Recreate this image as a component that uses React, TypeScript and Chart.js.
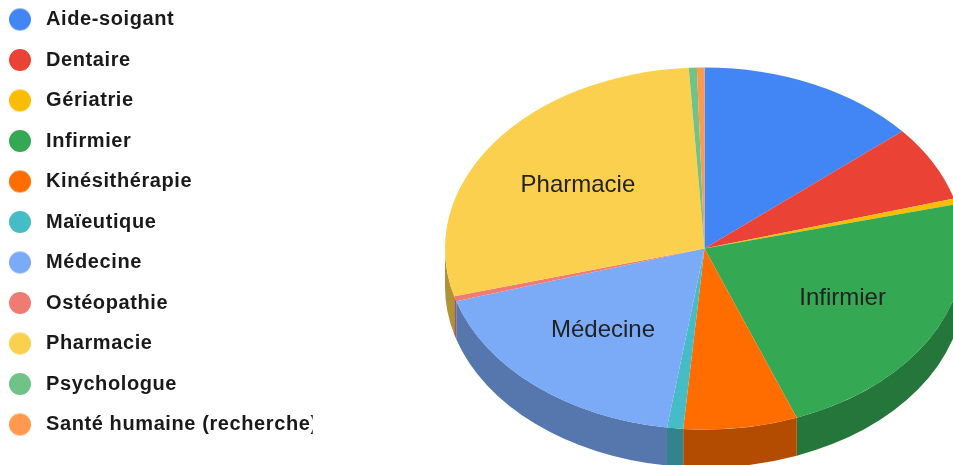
import React, { useEffect, useRef } from "react";
import { Chart, registerables } from "chart.js";

Chart.register(...registerables);

const categories = ["Aide-soigant", "Dentaire", "Gériatrie", "Infirmier", "Kinésithérapie", "Maïeutique", "Médecine", "Ostéopathie", "Pharmacie", "Psychologue", "Santé humaine (recherche)"];
const shares = [13.8, 6.77, 0.5, 23.17, 7.1, 1.0, 18.0, 0.45, 28.3, 0.5, 0.47];
const colors = ["#4285f4", "#ea4335", "#fbbc04", "#34a853", "#ff6d01", "#46bdc6", "#7baaf7", "#f07b72", "#fcd04f", "#71c287", "#ff994d"];
const labelled = ["Infirmier", "Médecine", "Pharmacie"];

const CX = 704.5, CY = 248.5, RX = 259.5, RY = 181, DEPTH = 38;
const LEGEND_LEFT = 9, LEGEND_CENTER_Y = 19.5, STEP = 40.5;
const LEGEND_FONT = 20, LEGEND_MARK = 27, LEGEND_RADIUS = 11;

function darken(hex: string, k = 0.7) {
  const n = parseInt(hex.slice(1), 16);
  return `rgb(${Math.round((n >> 16) * k)},${Math.round(((n >> 8) & 255) * k)},${Math.round((n & 255) * k)})`;
}

function dot(color: string) {
  const c = document.createElement("canvas");
  c.width = LEGEND_MARK; c.height = 24;
  const g = c.getContext("2d")!;
  g.fillStyle = color;
  g.beginPath();
  g.arc(LEGEND_RADIUS, 12, LEGEND_RADIUS, 0, Math.PI * 2);
  g.fill();
  return c;
}

const tiltPlugin = {
  id: "tilt",
  afterLayout(chart: any) {
    const l = chart.legend;
    const padding = l.options.labels.padding;
    const dx = LEGEND_LEFT - (l.left + padding);
    const dy = LEGEND_CENTER_Y - LEGEND_FONT / 2 - (l.top + padding);
    l.left += dx; l.right += dx; l.top += dy; l.bottom += dy;
  },
  beforeDraw(chart: any) {
    chart.ctx.letterSpacing = "0.6px";
  },
  beforeDatasetsDraw(chart: any) {
    const ctx = chart.ctx;
    chart.ctx.letterSpacing = "0px";
    const arcs = chart.getDatasetMeta(0).data;
    arcs.forEach((arc: any, i: number) => {
      const a0 = Math.max(arc.startAngle, 0);
      const a1 = Math.min(arc.endAngle, Math.PI);
      if (a1 <= a0) return;
      ctx.beginPath();
      ctx.ellipse(CX, CY, RX, RY, 0, a0, a1);
      ctx.ellipse(CX, CY + DEPTH, RX, RY, 0, a1, a0, true);
      ctx.closePath();
      ctx.fillStyle = darken(colors[i]);
      ctx.fill();
    });
    const first = arcs[0];
    ctx.save();
    ctx.translate(CX, CY);
    ctx.scale(RX / first.outerRadius, RY / first.outerRadius);
    ctx.translate(-first.x, -first.y);
  },
  afterDatasetsDraw(chart: any) {
    const ctx = chart.ctx;
    ctx.restore();
    const arcs = chart.getDatasetMeta(0).data;
    ctx.save();
    ctx.font = "24px 'Liberation Sans'";
    ctx.fillStyle = "#222222";
    ctx.textAlign = "center";
    ctx.textBaseline = "middle";
    arcs.forEach((arc: any, i: number) => {
      if (!labelled.includes(categories[i])) return;
      const mid = (arc.startAngle + arc.endAngle) / 2;
      ctx.fillText(categories[i], CX + Math.cos(mid) * RX * 0.6, CY + Math.sin(mid) * RY * 0.6);
    });
    ctx.restore();
  },
};

export default function App() {
  const ref = useRef<HTMLCanvasElement>(null);
  useEffect(() => {
    const chart = new Chart(ref.current!, {
      type: "pie",
      data: {
        labels: categories,
        datasets: [{ data: shares, backgroundColor: colors, borderWidth: 0, clip: false } as any],
      },
      options: {
        responsive: false,
        animation: false,
        plugins: {
          tooltip: { enabled: false },
          legend: {
            position: "left",
            align: "start",
            labels: {
              usePointStyle: true,
              pointStyleWidth: LEGEND_MARK,
              boxHeight: 16,
              padding: STEP - LEGEND_FONT,
              color: "#1a1a1a",
              font: { family: "'Liberation Sans'", size: LEGEND_FONT, weight: "bold" },
              generateLabels(c: any) {
                const base = (Chart as any).overrides.doughnut.plugins.legend.labels.generateLabels(c);
                return base.map((item: any, i: number) => ({ ...item, pointStyle: dot(colors[i]), lineWidth: 0 }));
              },
            },
          },
        },
      } as any,
      plugins: [tiltPlugin],
    });
    return () => chart.destroy();
  }, []);
  return (
    <div style={{ position: "fixed", left: 0, top: 0, width: 953, height: 465, overflow: "hidden", background: "#fff" }}>
      <canvas ref={ref} width={953} height={520} style={{ display: "block" }} />
    </div>
  );
}
